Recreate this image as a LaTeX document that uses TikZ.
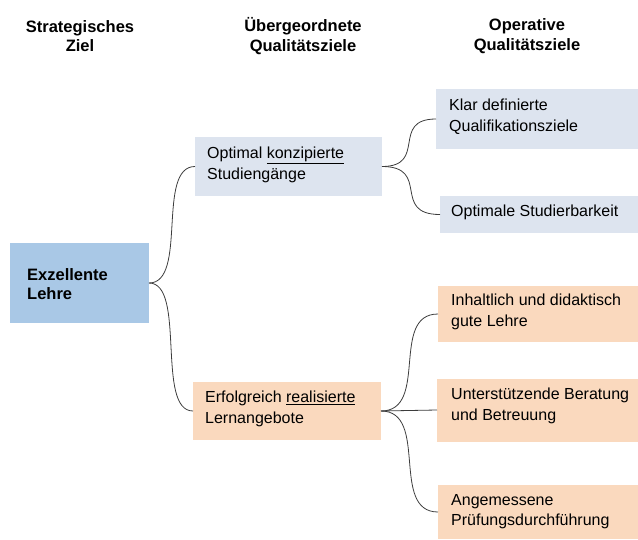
\documentclass[tikz,border=0pt]{standalone}
\usepackage{fontspec}
\setmainfont{Liberation Sans}
\usetikzlibrary{calc}
\definecolor{topblue}{HTML}{A9C8E6}
\definecolor{paleblue}{HTML}{DDE4EF}
\definecolor{peach}{HTML}{FAD9BE}
\definecolor{linegray}{HTML}{3C3C3C}
\tikzset{
  head/.style={align=center, font=\fontsize{16.5}{19.5}\selectfont\bfseries, inner sep=0pt},
  box/.style={anchor=north west, inner sep=0pt, align=left, font=\fontsize{16}{20.5}\selectfont},
  conn/.style={draw=linegray, line width=0.8pt},
}
\newcommand\bracelink[2]{\draw[conn] let \p1=(#1), \p2=(#2) in (\p1) .. controls ({\x1+0.85*(\x2-\x1)},\y1) and ({\x1+0.15*(\x2-\x1)},\y2) .. (\p2);}
\begin{document}
\begin{tikzpicture}[x=1pt,y=-1pt]
\useasboundingbox (0,0) rectangle (638,539);
% headers
\node[head] (h1) at (80,36) {Strategisches\\Ziel};
\node[head] (h2) at (303,36) {Übergeordnete\\Qualitätsziele};
\node[head] (h3) at (527,36) {Operative\\Qualitätsziele};
% boxes
\fill[topblue] (10,243) rectangle (149,323);
\node[box, font=\fontsize{16.5}{19.5}\selectfont\bfseries] (ext) at (27,268) {Exzellente\\Lehre};
\coordinate (ex) at (149,283);

\fill[paleblue] (195,137) rectangle (382,196);
\node[box] (optt) at (207,147) {Optimal \underline{konzipierte}\\Studiengänge};
\coordinate (optL) at (195,166.5);
\coordinate (optR) at (382,166.5);

\fill[peach] (193,382) rectangle (381,440);
\node[box] (erft) at (205,391) {Erfolgreich \underline{realisierte}\\Lernangebote};
\coordinate (erfL) at (193,411);
\coordinate (erfR) at (381,411);

\fill[paleblue] (436,89) rectangle (638,149);
\node[box] (klt) at (449,99) {Klar definierte\\Qualifikationsziele};
\coordinate (kl) at (436,119);

\fill[paleblue] (440,196) rectangle (638,233);
\node[box] (stt) at (451,205) {Optimale Studierbarkeit};
\coordinate (st) at (440,214.5);

\fill[peach] (438,286) rectangle (638,342);
\node[box] (inht) at (451,294) {Inhaltlich und didaktisch\\gute Lehre};
\coordinate (inh) at (438,314);

\fill[peach] (437,379) rectangle (638,442);
\node[box] (untt) at (451,388) {Unterstützende Beratung\\und Betreuung};
\coordinate (unt) at (437,410);

\fill[peach] (438,485) rectangle (638,539);
\node[box] (angt) at (451,494) {Angemessene\\Prüfungsdurchführung};
\coordinate (ang) at (438,512);

% connectors
\bracelink{ex}{optL}
\bracelink{ex}{erfL}
\bracelink{optR}{kl}
\bracelink{optR}{st}
\bracelink{erfR}{inh}
\bracelink{erfR}{ang}
\draw[conn] (erfR) -- (unt);
\end{tikzpicture}
\end{document}
